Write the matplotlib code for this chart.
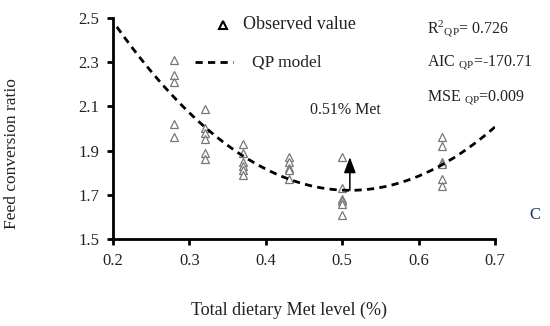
import numpy as np
import matplotlib.pyplot as plt

plt.rcParams['font.family'] = ['Liberation Serif', 'DejaVu Serif']
plt.rcParams['mathtext.fontset'] = 'custom'
plt.rcParams['mathtext.rm'] = 'Liberation Serif'
plt.rcParams['mathtext.it'] = 'Liberation Serif:italic'

txt_col = '#222222'

# observed values (Met level, FCR)
met_levels = [0.28, 0.32, 0.37, 0.43, 0.50, 0.63]
fcr_obs = [
    [2.31, 2.24, 2.21, 2.02, 1.96],
    [2.09, 2.00, 1.98, 1.95, 1.89, 1.86],
    [1.93, 1.89, 1.85, 1.83, 1.81, 1.79],
    [1.87, 1.85, 1.82, 1.81, 1.77],
    [1.87, 1.73, 1.68, 1.67, 1.66, 1.61],
    [1.96, 1.92, 1.85, 1.84, 1.77, 1.74],
]

# QP model: y = a*(x - x_opt)^2 + y_min
qp_a = 7.95
qp_xopt = 0.51
qp_ymin = 1.72

xticks = [0.2, 0.3, 0.4, 0.5, 0.6, 0.7]
yticks = [1.5, 1.7, 1.9, 2.1, 2.3, 2.5]

fig = plt.figure(figsize=(5.5, 3.26), dpi=100)
ax = fig.add_axes([0.2055, 0.267, 0.6945, 0.678])

xs = []
ys = []
for lvl, vals in zip(met_levels, fcr_obs):
    xs += [lvl] * len(vals)
    ys += vals
ax.plot(xs, ys, ls='none', marker='^', ms=5.3, mfc='white', mec='#777777', mew=0.9)

xm = np.linspace(0.205, 0.7, 200)
ym = qp_a * (xm - qp_xopt) ** 2 + qp_ymin
dash = (0, (2.6, 1.9))
ax.plot(xm, ym, color='black', lw=2, ls=dash)

# arrow at optimum
ax.annotate('', xy=(qp_xopt, 1.87), xytext=(qp_xopt, qp_ymin),
            arrowprops=dict(arrowstyle='-|>,head_width=0.36,head_length=0.95',
                            color='black', lw=1.1, shrinkA=0, shrinkB=0))
ax.text(0.458, 2.084, '0.51% Met', fontsize=11.5, color=txt_col, va='center')

# legend drawn by hand
ax.plot([0.344], [2.47], ls='none', marker='^', ms=5.5, mfc='white', mec='black', mew=1.5)
ax.text(0.370, 2.47, 'Observed value', fontsize=13, color=txt_col, va='center')
ax.plot([0.307, 0.357], [2.30, 2.30], color='black', lw=2, ls=dash)
ax.text(0.382, 2.30, 'QP model', fontsize=12.5, color=txt_col, va='center')

ax.text(0.611, 2.45, r'R$^{2}$$_{\mathrm{QP}}$= 0.726', fontsize=11.5, color=txt_col, va='center')
ax.text(0.611, 2.295, r'AIC $_{\mathrm{QP}}$=-170.71', fontsize=11.5, color=txt_col, va='center')
ax.text(0.611, 2.14, r'MSE $_{\mathrm{QP}}$=0.009', fontsize=11.5, color=txt_col, va='center')

ax.set_xlim(0.2, 0.7)
ax.set_ylim(1.5, 2.5)
ax.set_xticks(xticks)
ax.set_yticks(yticks)
ax.set_xticklabels(['%.1f' % v for v in xticks])
ax.set_yticklabels(['%.1f' % v for v in yticks])
ax.tick_params(labelsize=12, colors='black', labelcolor=txt_col, width=2, length=4, pad=6)
for s in ['top', 'right']:
    ax.spines[s].set_visible(False)
for s in ['left', 'bottom']:
    ax.spines[s].set_linewidth(2)

fig.text(0.525, 0.049, 'Total dietary Met level (%)', fontsize=13, color=txt_col,
         ha='center', va='center')
fig.text(0.022, 0.53, 'Feed conversion ratio', fontsize=12.5, color=txt_col,
         ha='center', va='center', rotation=90)
fig.text(535 / 550, 1 - 215 / 326, 'C', fontsize=12, color='#1a3a66', ha='center', va='center')

fig.savefig('out.png', dpi=100)
